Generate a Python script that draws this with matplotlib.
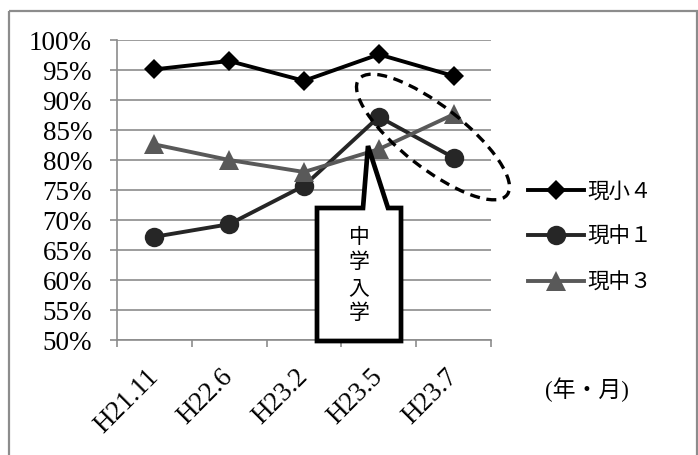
import matplotlib
matplotlib.use("Agg")
import matplotlib.pyplot as plt
from matplotlib.patches import Ellipse, Polygon, Rectangle
from matplotlib.transforms import Affine2D
from matplotlib.ticker import FixedLocator

SERIF = ["Liberation Serif", "DejaVu Serif"]
plt.rcParams['font.family'] = SERIF + ['Noto Sans CJK JP']

# survey dates (Japanese era year.month)
periods = ["H21.11", "H22.6", "H23.2", "H23.5", "H23.7"]

# share of students (%) per cohort
sho4 = [95.1, 96.5, 93.2, 97.6, 94.0]     # 現小４
chu1 = [67.2, 69.3, 75.7, 87.2, 80.4]     # 現中１
chu3 = [82.6, 80.0, 78.0, 81.8, 87.6]     # 現中３

series_names = ["現小４", "現中１", "現中３"]
y_ticks = list(range(50, 101, 5))

W, H = 698, 455
fig = plt.figure(figsize=(W / 100, H / 100), dpi=100)
# figure-pixel transform with the origin at the top-left corner
px = Affine2D().scale(1 / W, -1 / H).translate(0, 1) + fig.transFigure

# outer chart border
fig.patches.append(Rectangle((8.5, 11), 688, 460, transform=px, fill=False,
                             edgecolor="#8c8c8c", linewidth=1.6, clip_on=False))

ax = fig.add_axes([117 / W, 1 - 340 / H, (491 - 117) / W, (340 - 40) / H])
x = range(len(periods))

grid_c = "#8c8c8c"
ax.set_ylim(50, 100)
ax.set_xlim(-0.5, len(periods) - 0.5)
ax.set_yticks(y_ticks)
ax.set_yticklabels([f"{v}%" for v in y_ticks], fontsize=19.5, family=SERIF)
ax.yaxis.grid(True, color=grid_c, linewidth=1.2)
ax.set_axisbelow(True)
for s in ("top", "right"):
    ax.spines[s].set_visible(False)
for s in ("left", "bottom"):
    ax.spines[s].set_color(grid_c)
    ax.spines[s].set_linewidth(1.2)
ax.tick_params(axis="y", length=5, width=1.2, color=grid_c, pad=13)

ax.set_xticks(list(x))
ax.set_xticklabels(periods, fontsize=19.5, family=SERIF, rotation=45, ha="right",
                   va="center", rotation_mode="anchor")
ax.tick_params(axis="x", which="major", length=0, pad=24)
ax.xaxis.set_minor_locator(FixedLocator([i - 0.5 for i in range(len(periods) + 1)]))
ax.tick_params(axis="x", which="minor", length=5, width=1.2, color=grid_c)

l1, = ax.plot(x, sho4, color="#000000", linewidth=2.8, marker="D", markersize=10.5,
              markeredgewidth=0, zorder=3)
l2, = ax.plot(x, chu1, color="#262626", linewidth=2.8, marker="o", markersize=14,
              markeredgewidth=0, zorder=3)
l3, = ax.plot(x, chu3, color="#595959", linewidth=2.8, marker="^", markersize=14,
              markeredgewidth=0, zorder=3)

fig.legend([l1, l2, l3], series_names, loc="center left",
           bbox_to_anchor=(528 / W, 1 - 237 / H), frameon=False,
           prop={"family": ["Noto Sans CJK JP"], "size": 15.5},
           handlelength=2.6, handletextpad=0.15, labelspacing=1.1,
           borderpad=0, borderaxespad=0)

fig.text(545 / W, 1 - 390 / H, "(年・月)", fontsize=16.5, va="center", ha="left",
         family=SERIF + ["Noto Sans CJK JP"])

# callout marking junior high school entry
callout = [(317, 208), (363, 208), (368, 146), (388, 208), (401, 208),
           (401, 341), (317, 341)]
fig.patches.append(Polygon(callout, closed=True, transform=px, facecolor="white",
                           edgecolor="black", linewidth=3.4, joinstyle="miter",
                           zorder=5))
fig.text(359 / W, 1 - 275 / H, "中\n学\n入\n学", fontsize=15, ha="center",
         va="center", linespacing=1.2, family=["Noto Sans CJK JP"], zorder=6)

# dashed ring around the post-entry points
fig.patches.append(Ellipse((433, 137), 188, 62, angle=38, transform=px,
                           fill=False, edgecolor="black", linewidth=2.4,
                           linestyle=(0, (3, 2)), zorder=6))

fig.savefig("out.png", dpi=100)
